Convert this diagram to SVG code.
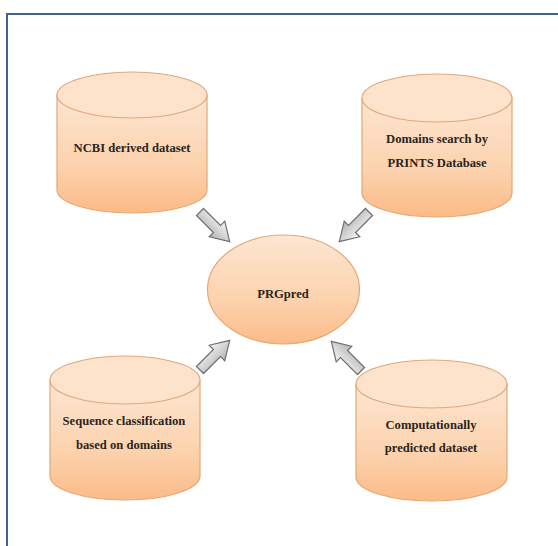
<svg xmlns="http://www.w3.org/2000/svg" width="558" height="546" viewBox="0 0 558 546">
<defs>
<linearGradient id="peach" x1="0" y1="0" x2="0" y2="1">
<stop offset="0" stop-color="#fde6d2"/>
<stop offset="0.6" stop-color="#fcd2ad"/>
<stop offset="1" stop-color="#fbbb88"/>
</linearGradient>
<linearGradient id="gray" x1="0" y1="0" x2="0" y2="1">
<stop offset="0" stop-color="#f4f4f4"/>
<stop offset="1" stop-color="#b4b4b4"/>
</linearGradient>
<path id="arr" d="M0,-5 L24,-5 L24,-11 L42,0 L24,11 L24,5 L0,5 Z"/>
</defs>
<style>
.body{fill:url(#peach);stroke:#e2a878;stroke-width:1.2}
.top{fill:#fde3cb;stroke:#e2a878;stroke-width:1.2}
.lbl{font-weight:bold;font-size:12.6px;fill:#2a2420;text-anchor:middle}
.ar{fill:url(#gray);stroke:#6e6e6e;stroke-width:1.2}
</style>
<rect x="0" y="0" width="558" height="546" fill="#ffffff"/>
<rect x="7" y="14" width="560" height="545" fill="#ffffff" stroke="#41628f" stroke-width="2"/>
<g id="connectors">
<use href="#arr" class="ar" transform="translate(200,212) rotate(45)"/>
<use href="#arr" class="ar" transform="translate(369,212) rotate(135)"/>
<use href="#arr" class="ar" transform="translate(200,370) rotate(-45)"/>
<use href="#arr" class="ar" transform="translate(361,371) rotate(-135)"/>
</g>
<g id="ncbi" font-family="'Liberation Serif', 'Times New Roman', serif">
<path class="body" d="M57,95 L57,190 A75,23 0 0 0 207,190 L207,95 Z"/>
<ellipse class="top" cx="132" cy="95" rx="75" ry="23"/>
<text class="lbl" x="132" y="152">NCBI derived dataset</text>
</g>
<g id="prints" font-family="'Liberation Serif', 'Times New Roman', serif">
<path class="body" d="M362,98 L362,193 A75,24 0 0 0 512,193 L512,98 Z"/>
<ellipse class="top" cx="437" cy="98" rx="75" ry="24"/>
<text class="lbl" x="437" y="143">Domains search by</text>
<text class="lbl" x="437" y="167">PRINTS Database</text>
</g>
<g id="sequence" font-family="'Liberation Serif', 'Times New Roman', serif">
<path class="body" d="M50,380 L50,476 A75,24 0 0 0 200,476 L200,380 Z"/>
<ellipse class="top" cx="125" cy="380" rx="75" ry="24"/>
<text class="lbl" x="124" y="425">Sequence classification</text>
<text class="lbl" x="124" y="449">based on domains</text>
</g>
<g id="computational" font-family="'Liberation Serif', 'Times New Roman', serif">
<path class="body" d="M356,384 L356,477 A75.5,24 0 0 0 507,477 L507,384 Z"/>
<ellipse class="top" cx="431.5" cy="384" rx="75.5" ry="24"/>
<text class="lbl" x="431" y="429">Computationally</text>
<text class="lbl" x="431" y="452">predicted dataset</text>
</g>
<g id="prgpred" font-family="'Liberation Serif', 'Times New Roman', serif">
<ellipse cx="283.5" cy="289.5" rx="76" ry="54.5" fill="url(#peach)" stroke="#e2a878" stroke-width="1.2"/>
<text class="lbl" x="283" y="298">PRGpred</text>
</g>
</svg>
